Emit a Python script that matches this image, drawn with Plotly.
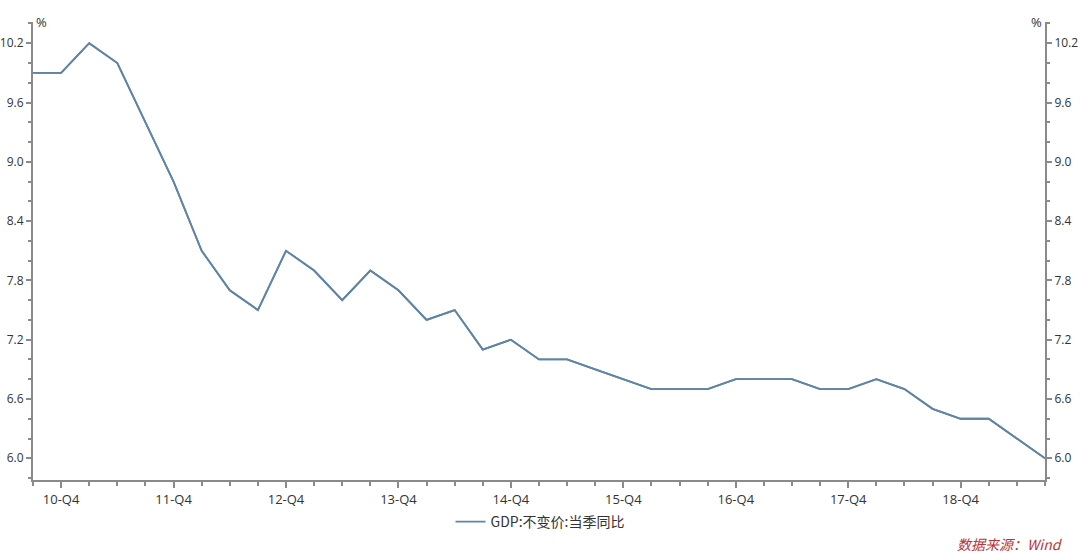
import plotly.graph_objects as go

quarters = [
    "10-Q3", "10-Q4",
    "11-Q1", "11-Q2", "11-Q3", "11-Q4",
    "12-Q1", "12-Q2", "12-Q3", "12-Q4",
    "13-Q1", "13-Q2", "13-Q3", "13-Q4",
    "14-Q1", "14-Q2", "14-Q3", "14-Q4",
    "15-Q1", "15-Q2", "15-Q3", "15-Q4",
    "16-Q1", "16-Q2", "16-Q3", "16-Q4",
    "17-Q1", "17-Q2", "17-Q3", "17-Q4",
    "18-Q1", "18-Q2", "18-Q3", "18-Q4",
    "19-Q1", "19-Q2", "19-Q3",
]
gdp_yoy = [
    9.9, 9.9,
    10.2, 10.0, 9.4, 8.8,
    8.1, 7.7, 7.5, 8.1,
    7.9, 7.6, 7.9, 7.7,
    7.4, 7.5, 7.1, 7.2,
    7.0, 7.0, 6.9, 6.8,
    6.7, 6.7, 6.7, 6.8,
    6.8, 6.8, 6.7, 6.7,
    6.8, 6.7, 6.5, 6.4,
    6.4, 6.2, 6.0,
]
y_ticks = [6.0, 6.6, 7.2, 7.8, 8.4, 9.0, 9.6, 10.2]
series_name = "GDP:不变价:当季同比"
source_text = "数据来源：Wind"

x_idx = list(range(len(quarters)))
q4_idx = [i for i, q in enumerate(quarters) if q.endswith("Q4")]
q4_lab = [quarters[i] for i in q4_idx]

LINE = "#5f84a6"
AXIS = "#8a8a8a"
TXT = "#333333"
FONT = "Open Sans, Noto Sans CJK SC, sans-serif"

W, H = 1080, 553

fig = go.Figure()
fig.add_trace(go.Scatter(
    x=x_idx, y=gdp_yoy, mode="lines", name=series_name,
    line=dict(color=LINE, width=1.8), yaxis="y",
))
fig.add_trace(go.Scatter(
    x=x_idx, y=gdp_yoy, mode="lines", showlegend=False, hoverinfo="skip",
    line=dict(color=LINE, width=1.8), yaxis="y2",
))

yrange = [5.78, 10.415]
yax = dict(
    range=yrange, tickvals=y_ticks, ticktext=[f"{v:.1f}" for v in y_ticks],
    showgrid=False, zeroline=False, showline=True, linecolor=AXIS, linewidth=2,
    ticks="outside", ticklen=5, tickwidth=1.5, tickcolor=AXIS,
    tickfont=dict(size=12, color=TXT, family=FONT),
    minor=dict(dtick=0.2, tick0=6.0, ticks="outside", ticklen=3, tickcolor=AXIS, tickwidth=1.5),
    fixedrange=True, automargin=False,
)
fig.update_layout(
    width=W, height=H,
    paper_bgcolor="white", plot_bgcolor="white",
    margin=dict(l=33, r=35, t=22, b=73, autoexpand=False),
    xaxis=dict(
        range=[0, len(quarters) - 1], tickvals=q4_idx, ticktext=q4_lab,
        showgrid=False, zeroline=False, showline=True, linecolor=AXIS, linewidth=2,
        ticks="outside", ticklen=6, tickwidth=1.5, tickcolor=AXIS,
        tickfont=dict(size=13, color=TXT, family=FONT),
        minor=dict(dtick=1, tick0=0, ticks="outside", ticklen=4, tickcolor=AXIS, tickwidth=1.5),
        automargin=False, fixedrange=True,
    ),
    yaxis=yax,
    yaxis2=dict(yax, overlaying="y", side="right"),
    showlegend=True,
    legend=dict(
        orientation="h", x=540 / W, xanchor="center", xref="container",
        y=1 - 522 / H, yanchor="middle", yref="container",
        font=dict(size=14, color=TXT, family="Noto Sans CJK SC, sans-serif"),
        bgcolor="rgba(0,0,0,0)", itemwidth=30,
    ),
    annotations=[
        dict(text="%", xref="paper", yref="paper", x=0, y=1, xanchor="left", yanchor="middle",
             xshift=1, showarrow=False, font=dict(size=13, color=TXT, family=FONT)),
        dict(text="%", xref="paper", yref="paper", x=1, y=1, xanchor="right", yanchor="middle",
             xshift=-1, showarrow=False, font=dict(size=13, color=TXT, family=FONT)),
        dict(text="<i>" + source_text + "</i>", xref="paper", yref="paper", x=1, y=0,
             xanchor="right", yanchor="middle", xshift=20, yshift=-64, showarrow=False,
             font=dict(size=14, color="#b8363a", family="Noto Sans CJK SC, sans-serif")),
    ],
)
fig.write_html(
    "out.html",
    config={"displayModeBar": False},
    post_script="document.body.style.margin='0';document.body.style.overflow='hidden';",
)
